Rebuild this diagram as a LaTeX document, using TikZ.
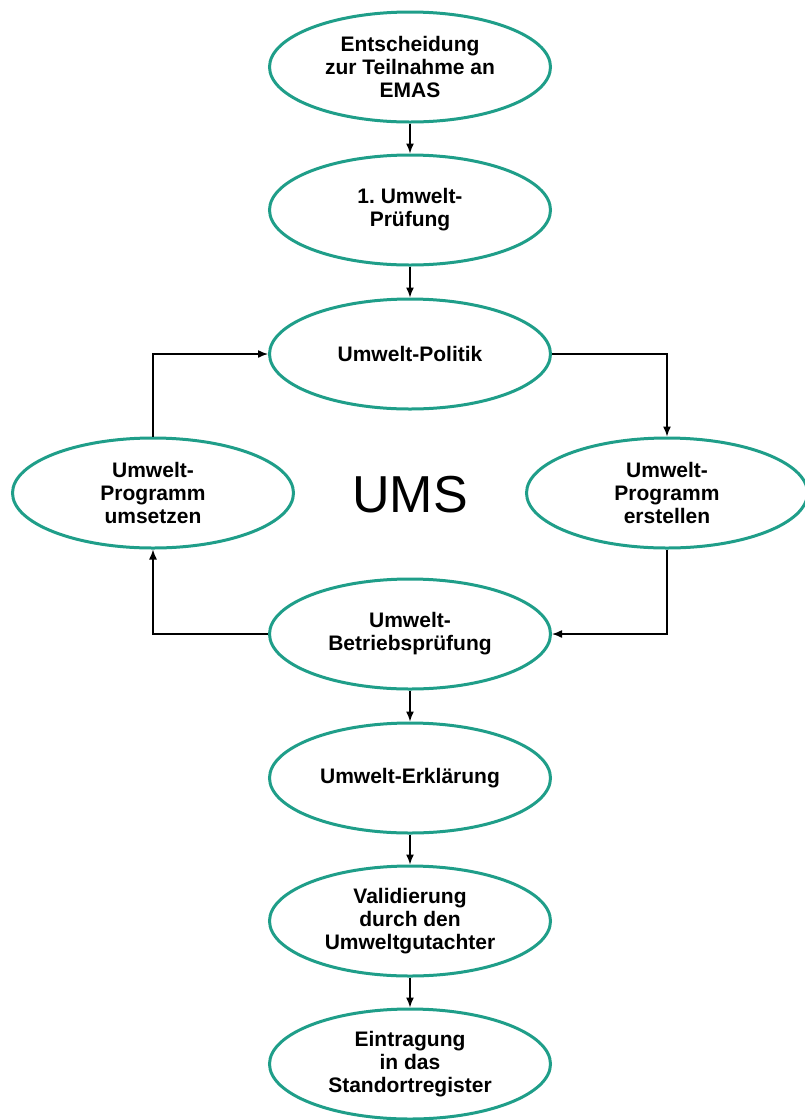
\documentclass[tikz,border=0pt]{standalone}
\usepackage{fontspec}
\setmainfont{Liberation Sans}
\usetikzlibrary{shapes.geometric}
\usetikzlibrary{arrows.meta}
\tikzset{>={Latex[width=8pt,length=10pt]}}
\definecolor{emasgreen}{HTML}{1F9E89}
\tikzset{
  oval/.style={ellipse, draw=emasgreen, line width=3pt, fill=white,
    minimum width=281pt, minimum height=110pt, inner sep=0pt,
    align=center, font=\bfseries\fontsize{21}{23}\selectfont},
  link/.style={->, line width=1.4pt, black}
}

\begin{document}
\begin{tikzpicture}[x=1pt,y=1pt]
\newcommand\X{410}
\newcommand\D{257}

\useasboundingbox (0,0) rectangle (805,-1120);

% main column
\node[oval] (entsch) at (\X,-67) {Entscheidung\\zur Teilnahme an\\EMAS};
\node[oval] (pruef) at (\X,-210) {1.\ Umwelt-\\Prüfung};
\node[oval] (politik) at (\X,-354) {Umwelt-Politik};
\node[oval] (betrieb) at (\X,-634) {Umwelt-\\Betriebsprüfung};
\node[oval] (erkl) at (\X,-778) {Umwelt-Erklärung};
\node[oval] (valid) at (\X,-921) {Validierung\\durch den\\Umweltgutachter};
\node[oval] (eintrag) at (\X,-1064) {Eintragung\\in das\\Standortregister};

% side nodes of the cycle
\node[oval] (umsetzen) at (\X-\D,-493) {Umwelt-\\Programm\\umsetzen};
\node[oval] (erstellen) at (\X+\D,-493) {Umwelt-\\Programm\\erstellen};
\node[font=\fontsize{52}{60}\selectfont] (ums) at (\X,-495) {UMS};

\draw[link] (entsch) -- (pruef);
\draw[link] (pruef) -- (politik);
\draw[link] (politik.east) -| (erstellen.north);
\draw[link] (erstellen.south) |- (betrieb.east);
\draw[link] (betrieb.west) -| (umsetzen.south);
\draw[link] (umsetzen.north) |- (politik.west);
\draw[link] (betrieb) -- (erkl);
\draw[link] (erkl) -- (valid);
\draw[link] (valid) -- (eintrag);
\end{tikzpicture}
\end{document}
